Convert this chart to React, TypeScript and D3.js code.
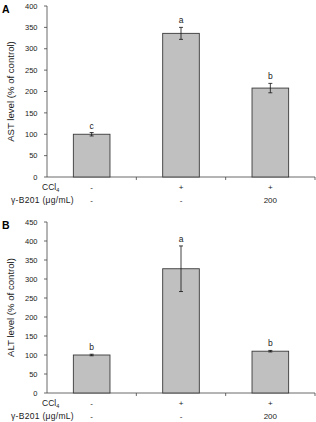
import React from 'react';
import * as d3 from 'd3';

// treatment groups (x categories)
const groups = ['control', 'CCl4', 'CCl4 + B201'];
const ccl4Row = ['-', '+', '+'];
const b201Row = ['-', '-', '200'];

// panel A: AST
const astMeans = [100, 336, 208];
const astErrors = [4, 14, 11];
const astLetters = ['c', 'a', 'b'];
const astTicks = [0, 50, 100, 150, 200, 250, 300, 350, 400];

// panel B: ALT
const altMeans = [100, 327, 110];
const altErrors = [2, 60, 2];
const altLetters = ['b', 'a', 'b'];
const altTicks = [0, 50, 100, 150, 200, 250, 300, 350, 400, 450];

const width = 316;
const height = 422;
const font = 'Arial, "Liberation Sans", sans-serif';

type PanelProps = {
    label: string;
    title: string;
    means: number[];
    errors: number[];
    letters: string[];
    ticks: number[];
    top: number;
};

function Panel({ label, title, means, errors, letters, ticks, top }: PanelProps) {
    const left = 47;
    const right = 315;
    const plotH = 171;
    const yMax = ticks[ticks.length - 1];

    const x = d3.scaleBand<string>().domain(groups).range([left, right]).paddingInner(0).paddingOuter(0);
    const y = d3.scaleLinear().domain([0, yMax]).range([top + plotH, top]);
    const barW = x.bandwidth() * 0.41;
    const axisColor = '#444';
    const textColor = '#1a1a1a';

    return (
        <g>
            <text x={2} y={top + 7} fontFamily={font} fontWeight="bold" fontSize={10.5}>{label}</text>
            {/* y axis */}
            <line x1={left} x2={left} y1={y(0)} y2={y(yMax)} stroke={axisColor} strokeWidth={0.8} />
            {ticks.map(t => (
                <g key={t}>
                    <line x1={left - 3} x2={left} y1={y(t)} y2={y(t)} stroke={axisColor} strokeWidth={0.8} />
                    <text x={left - 9.5} y={y(t) + 2.7} textAnchor="end" fontFamily={font} fontSize={7.5} fill={textColor}>{t}</text>
                </g>
            ))}
            <text
                transform={`translate(14,${(y(0) + y(yMax)) / 2}) rotate(-90)`}
                textAnchor="middle"
                fontFamily={font}
                fontSize={9.6}
                fill={textColor}
            >{title}</text>
            {/* x axis */}
            <line x1={left} x2={right} y1={y(0)} y2={y(0)} stroke={axisColor} strokeWidth={0.8} />
            {groups.map(g => (
                <line key={g} x1={(x(g) ?? 0) + x.bandwidth()} x2={(x(g) ?? 0) + x.bandwidth()} y1={y(0)} y2={y(0) + 3} stroke={axisColor} strokeWidth={0.8} />
            ))}
            {/* bars */}
            {groups.map((g, i) => {
                const cx = (x(g) ?? 0) + x.bandwidth() / 2;
                const hi = y(means[i] + errors[i]);
                const lo = y(means[i] - errors[i]);
                return (
                    <g key={g}>
                        <rect x={cx - barW / 2} y={y(means[i])} width={barW} height={y(0) - y(means[i])} fill="#c0c0c0" stroke="#3a3a3a" strokeWidth={0.9} />
                        <line x1={cx} x2={cx} y1={hi} y2={lo} stroke="#111" strokeWidth={0.8} />
                        <line x1={cx - 2} x2={cx + 2} y1={hi} y2={hi} stroke="#111" strokeWidth={0.8} />
                        <line x1={cx - 2} x2={cx + 2} y1={lo} y2={lo} stroke="#111" strokeWidth={0.8} />
                        <text x={cx} y={hi - 4} textAnchor="middle" fontFamily={font} fontSize={8.5} fill={textColor}>{letters[i]}</text>
                        <text x={cx} y={y(0) + 13} textAnchor="middle" fontFamily={font} fontSize={8} fill={textColor}>{ccl4Row[i]}</text>
                        <text x={cx} y={y(0) + 26} textAnchor="middle" fontFamily={font} fontSize={8} fill={textColor}>{b201Row[i]}</text>
                    </g>
                );
            })}
            {/* row labels */}
            <text x={42} y={y(0) + 13} fontFamily={font} fontSize={8.5} fill={textColor}>
                CCl<tspan fontSize={5.5} dy={1.5}>4</tspan>
            </text>
            <text x={11} y={y(0) + 26} fontFamily={font} fontSize={8.5} letterSpacing={0.3} fill={textColor}>γ-B201 (μg/mL)</text>
        </g>
    );
}

export default function App() {
    return (
        <svg width={width} height={height} style={{ position: 'absolute', left: 0, top: 0, background: '#fff' }}>
            <Panel label="A" title="AST level (% of control)" means={astMeans} errors={astErrors} letters={astLetters} ticks={astTicks} top={6} />
            <Panel label="B" title="ALT level (% of control)" means={altMeans} errors={altErrors} letters={altLetters} ticks={altTicks} top={222} />
        </svg>
    );
}
